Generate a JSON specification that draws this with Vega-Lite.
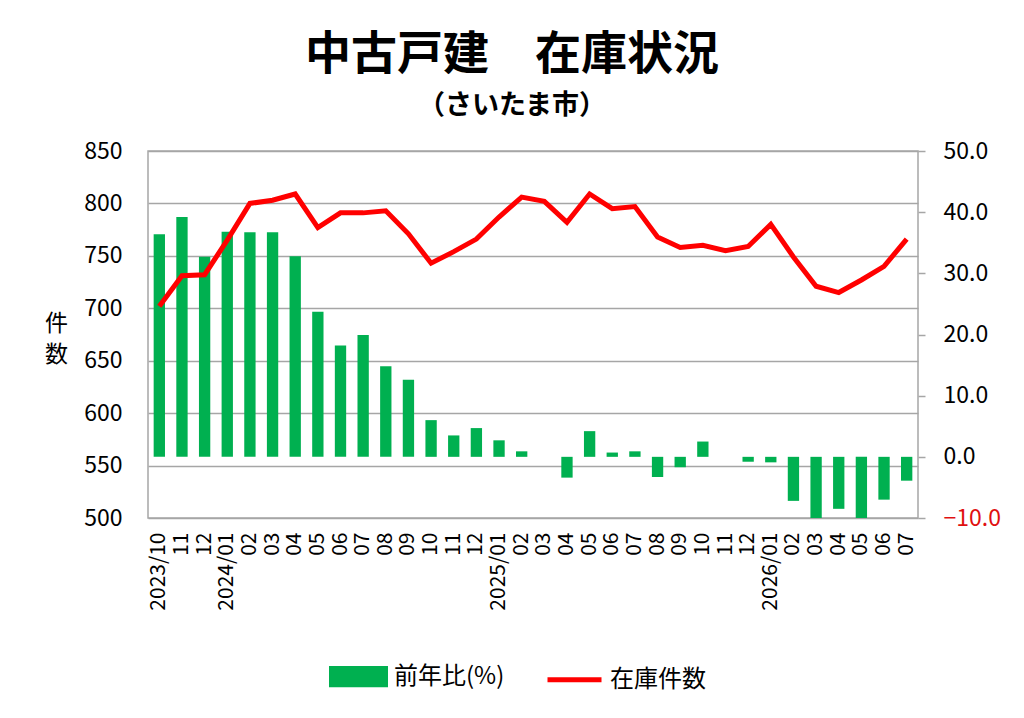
{
  "$schema": "https://vega.github.io/schema/vega-lite/v6.json",
  "width": 770,
  "height": 367,
  "autosize": "none",
  "padding": {"left": 148, "top": 151, "right": 106, "bottom": 200},
  "background": "white",
  "title": {
    "text": "中古戸建　在庫状況",
    "subtitle": "（さいたま市）",
    "font": "Noto Sans CJK JP",
    "fontSize": 46,
    "fontWeight": "bold",
    "color": "black",
    "subtitleFont": "Noto Sans CJK JP",
    "subtitleFontSize": 27,
    "subtitleFontWeight": "bold",
    "subtitleColor": "black",
    "subtitlePadding": 14,
    "anchor": "middle",
    "frame": "group",
    "dx": -21,
    "offset": 20
  },
  "data": {
    "values": [
      {"month": "2023-10", "yoy": 36.4, "stock": 702},
      {"month": "2023-11", "yoy": 39.2, "stock": 731},
      {"month": "2023-12", "yoy": 32.7, "stock": 732},
      {"month": "2024-01", "yoy": 36.8, "stock": 765},
      {"month": "2024-02", "yoy": 36.7, "stock": 800},
      {"month": "2024-03", "yoy": 36.7, "stock": 803},
      {"month": "2024-04", "yoy": 32.8, "stock": 809},
      {"month": "2024-05", "yoy": 23.7, "stock": 777},
      {"month": "2024-06", "yoy": 18.2, "stock": 791},
      {"month": "2024-07", "yoy": 19.9, "stock": 791},
      {"month": "2024-08", "yoy": 14.8, "stock": 793},
      {"month": "2024-09", "yoy": 12.6, "stock": 771},
      {"month": "2024-10", "yoy": 6.0, "stock": 743},
      {"month": "2024-11", "yoy": 3.5, "stock": 754},
      {"month": "2024-12", "yoy": 4.7, "stock": 766},
      {"month": "2025-01", "yoy": 2.7, "stock": 787},
      {"month": "2025-02", "yoy": 0.9, "stock": 806},
      {"month": "2025-03", "yoy": 0.0, "stock": 802},
      {"month": "2025-04", "yoy": -3.4, "stock": 782},
      {"month": "2025-05", "yoy": 4.2, "stock": 809},
      {"month": "2025-06", "yoy": 0.7, "stock": 795},
      {"month": "2025-07", "yoy": 0.9, "stock": 797},
      {"month": "2025-08", "yoy": -3.3, "stock": 768},
      {"month": "2025-09", "yoy": -1.7, "stock": 758},
      {"month": "2025-10", "yoy": 2.5, "stock": 760},
      {"month": "2025-11", "yoy": 0.0, "stock": 755},
      {"month": "2025-12", "yoy": -0.8, "stock": 759},
      {"month": "2026-01", "yoy": -0.9, "stock": 780},
      {"month": "2026-02", "yoy": -7.2, "stock": 749},
      {"month": "2026-03", "yoy": -10.4, "stock": 721},
      {"month": "2026-04", "yoy": -8.5, "stock": 715},
      {"month": "2026-05", "yoy": -10.6, "stock": 727},
      {"month": "2026-06", "yoy": -7.0, "stock": 740},
      {"month": "2026-07", "yoy": -3.9, "stock": 766}
    ]
  },
  "encoding": {
    "x": {
      "field": "month",
      "type": "ordinal",
      "scale": {"paddingInner": 0.5, "paddingOuter": 0.25},
      "axis": {
        "title": null,
        "labelAngle": -90,
        "labelAlign": "right",
        "labelBaseline": "middle",
        "labelFont": "Noto Sans CJK JP",
        "labelFontSize": 21,
        "labelColor": "black",
        "ticks": false,
        "domain": false,
        "labelPadding": 14,
        "labelExpr": "slice(datum.value,5)=='01' || datum.value=='2023-10' ? replace(datum.value,'-','/') : slice(datum.value,5)"
      }
    }
  },
  "layer": [
    {
      "mark": {"type": "bar", "clip": true},
      "encoding": {
        "y": {
          "field": "yoy",
          "type": "quantitative",
          "scale": {"domain": [-10, 50], "nice": false, "zero": false},
          "axis": {
            "orient": "right",
            "title": null,
            "values": [-10, 0, 10, 20, 30, 40, 50],
            "format": ".1f",
            "grid": false,
            "domain": false,
            "ticks": true,
            "tickColor": "#a6a6a6",
            "tickWidth": 1.5,
            "tickSize": 7,
            "labelPadding": 18,
            "labelFont": "Noto Sans CJK JP",
            "labelFontSize": 23,
            "labelColor": {"condition": {"test": "datum.value < 0", "value": "#E01010"}, "value": "black"}
          }
        },
        "color": {
          "datum": "前年比(%)",
          "scale": {"domain": ["前年比(%)", "在庫件数"], "range": ["#00B050", "#FF0000"]},
          "legend": {
            "orient": "none",
            "legendX": 181,
            "legendY": 496,
            "direction": "horizontal",
            "title": null,
            "labelFont": "Noto Sans CJK JP",
            "labelFontSize": 24,
            "labelColor": "black",
            "labelOffset": 6,
            "columnPadding": 32,
            "symbolSize": 2916,
            "encode": {
              "symbols": {
                "update": {
                  "shape": {"signal": "datum.value === '在庫件数' ? 'M-1,0H1' : 'M-1,-0.3H1V0.3H-1Z'"},
                  "fill": {"signal": "datum.value === '在庫件数' ? 'transparent' : '#00B050'"},
                  "stroke": {"signal": "datum.value === '在庫件数' ? '#FF0000' : 'transparent'"},
                  "strokeWidth": {"value": 5},
                  "opacity": {"value": 1},
                  "fillOpacity": {"value": 1}
                }
              }
            }
          }
        }
      }
    },
    {
      "mark": {"type": "line", "strokeWidth": 5},
      "encoding": {
        "y": {
          "field": "stock",
          "type": "quantitative",
          "scale": {"domain": [500, 850], "nice": false, "zero": false},
          "axis": {
            "orient": "left",
            "title": ["件", "数"],
            "titleAngle": 0,
            "titleX": -92,
            "titleY": 172,
            "titleAlign": "center",
            "titleBaseline": "middle",
            "titleFont": "Noto Sans CJK JP",
            "titleFontSize": 23,
            "titleFontWeight": "normal",
            "titleLineHeight": 31,
            "titleColor": "black",
            "values": [500, 550, 600, 650, 700, 750, 800, 850],
            "grid": true,
            "gridColor": "#a6a6a6",
            "gridWidth": 1.5,
            "ticks": false,
            "domain": false,
            "labelPadding": 26,
            "labelFont": "Noto Sans CJK JP",
            "labelFontSize": 23,
            "labelColor": "black"
          }
        },
        "color": {"datum": "在庫件数"}
      }
    }
  ],
  "resolve": {"scale": {"y": "independent"}},
  "config": {
    "view": {"stroke": "#a6a6a6", "strokeWidth": 1.5},
    "font": "Noto Sans CJK JP"
  }
}
